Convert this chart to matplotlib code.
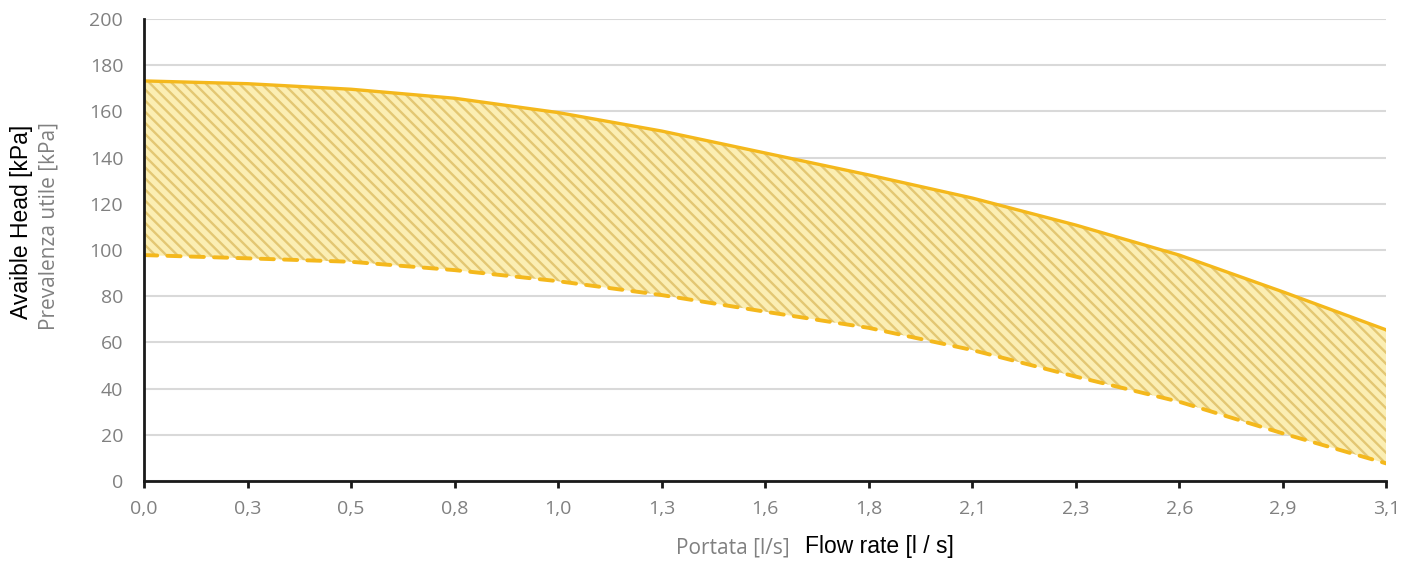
import matplotlib
matplotlib.use("Agg")
import matplotlib.pyplot as plt
import numpy as np

# Data
flow_labels = ["0,0", "0,3", "0,5", "0,8", "1,0", "1,3", "1,6", "1,8",
               "2,1", "2,3", "2,6", "2,9", "3,1"]
head_max = [173.2, 172.0, 169.6, 165.7, 159.5, 151.5, 142.0, 132.5,
            122.5, 110.8, 97.8, 81.9, 65.4]
head_min = [97.8, 96.4, 94.9, 91.3, 86.5, 80.5, 73.3, 66.3,
            56.7, 45.2, 34.3, 20.6, 7.6]
y_ticks = [0, 20, 40, 60, 80, 100, 120, 140, 160, 180, 200]

line_color = "#f4b81c"
fill_color = "#fbeeb3"
hatch_color = "#e3c773"
tick_gray = "#808080"

plt.rcParams["hatch.linewidth"] = 1.7
plt.rcParams["hatch.color"] = hatch_color

fig = plt.figure(figsize=(14.19, 5.71), dpi=100)
ax = fig.add_axes([0.1015, 0.1576, 0.8755, 0.8091])

x = np.arange(len(flow_labels))
ax.fill_between(x, head_min, head_max, facecolor=fill_color,
                edgecolor=hatch_color, hatch="\\\\\\", linewidth=0, zorder=2)
ax.plot(x, head_max, color=line_color, lw=2.4, zorder=3,
        solid_capstyle="butt")
ax.plot(x, head_min, color=line_color, lw=2.8, zorder=3,
        linestyle=(0, (3.4, 2.6)), dash_capstyle="round")

ax.set_xlim(0, len(flow_labels) - 1)
ax.set_ylim(0, 200)
ax.set_xticks(x)
ax.set_xticklabels(flow_labels)
ax.set_yticks(y_ticks)
ax.set_yticklabels([str(v) for v in y_ticks])

ax.grid(axis="y", color="#d9d9d9", linewidth=1.5, zorder=0)
ax.set_axisbelow(True)
for s in ["top", "right"]:
    ax.spines[s].set_visible(False)
for s in ["left", "bottom"]:
    ax.spines[s].set_linewidth(2.0)
    ax.spines[s].set_color("#1a1a1a")
    ax.spines[s].set_zorder(4)

ax.tick_params(axis="y", length=0, pad=15, labelsize=14, labelcolor=tick_gray)
ax.tick_params(axis="x", length=5, width=2, color="#1a1a1a", pad=9,
               labelsize=14, labelcolor=tick_gray)
for lab in ax.get_xticklabels() + ax.get_yticklabels():
    lab.set_family("Open Sans")

fig.text(0.0155, 0.611, "Avaible Head [kPa]", rotation=90, fontsize=16.5,
         family="Liberation Sans", color="black", ha="center", va="center")
fig.text(0.0345, 0.604, "Prevalenza utile [kPa]", rotation=90, fontsize=15,
         family="Open Sans", color=tick_gray, ha="center", va="center")
fig.text(0.5565, 0.031, "Portata [l/s]", fontsize=15, family="Open Sans",
         color=tick_gray, ha="right", va="baseline")
fig.text(0.5675, 0.031, "Flow rate [l / s]", fontsize=16.5,
         family="Liberation Sans", color="black", ha="left", va="baseline")

fig.savefig("out.png", dpi=100, facecolor="white")
